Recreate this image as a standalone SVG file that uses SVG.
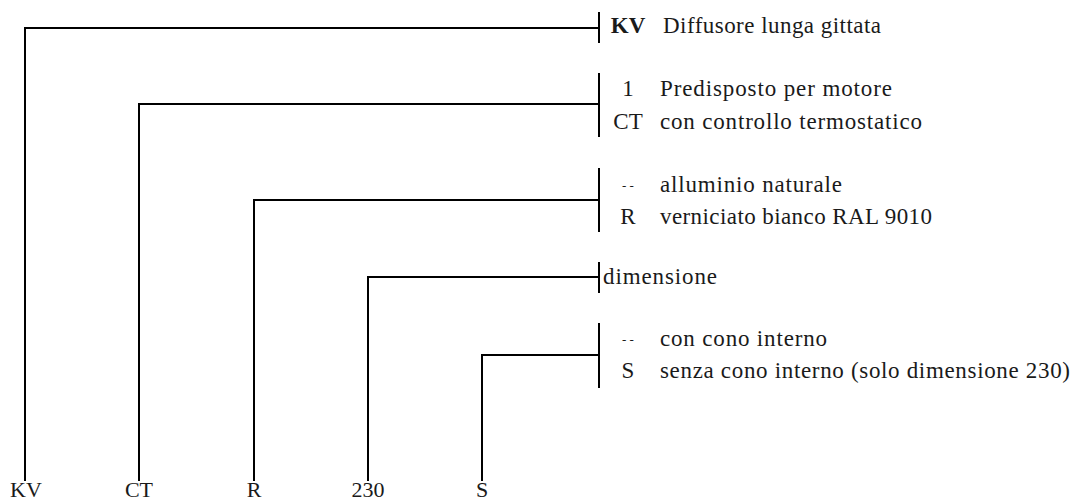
<svg xmlns="http://www.w3.org/2000/svg" width="1073" height="502" viewBox="0 0 1073 502">
<style>
  .ln { stroke:#000; stroke-width:2; fill:none; }
  text { font-family:"Liberation Serif","Times New Roman",serif; font-size:23px; fill:#1a1a1a; }
  .code { text-anchor:middle; }
  .bold { font-weight:bold; }
  .dash { font-size:13px; text-anchor:middle; }
  .bot { text-anchor:middle; font-size:22px; }
</style>
<rect width="1073" height="502" fill="#fff"/>
<g id="connectors">
  <path class="ln" d="M25,481 V28 H599"/>
  <path class="ln" d="M139,481 V104 H599"/>
  <path class="ln" d="M254,481 V200 H599"/>
  <path class="ln" d="M368,481 V277 H599"/>
  <path class="ln" d="M482,481 V355 H599"/>
</g>
<g id="node-kv">
  <line class="ln" x1="599" y1="12" x2="599" y2="43"/>
  <text class="code bold" x="628" y="33">KV</text>
  <text x="663" y="33" textLength="218">Diffusore lunga gittata</text>
</g>
<g id="node-ct">
  <line class="ln" x1="599" y1="73" x2="599" y2="137"/>
  <text class="code" x="628" y="96">1</text>
  <text x="660" y="96" textLength="232">Predisposto per motore</text>
  <text class="code" x="628" y="129">CT</text>
  <text x="660" y="129" textLength="262">con controllo termostatico</text>
</g>
<g id="node-r">
  <line class="ln" x1="599" y1="168" x2="599" y2="232"/>
  <text class="dash" x="628" y="190">- -</text>
  <text x="660" y="192" textLength="182">alluminio naturale</text>
  <text class="code" x="628" y="224">R</text>
  <text x="660" y="224" textLength="272">verniciato bianco RAL 9010</text>
</g>
<g id="node-230">
  <line class="ln" x1="599" y1="262" x2="599" y2="293"/>
  <text x="603" y="284" textLength="114">dimensione</text>
</g>
<g id="node-s">
  <line class="ln" x1="599" y1="323" x2="599" y2="388"/>
  <text class="dash" x="628" y="344">- -</text>
  <text x="660" y="346" textLength="167">con cono interno</text>
  <text class="code" x="628" y="378">S</text>
  <text x="660" y="378" textLength="410">senza cono interno (solo dimensione 230)</text>
</g>
<g id="bottom-labels">
  <text class="bot" x="26" y="497">KV</text>
  <text class="bot" x="139" y="497">CT</text>
  <text class="bot" x="254" y="497">R</text>
  <text class="bot" x="368" y="497">230</text>
  <text class="bot" x="482" y="497">S</text>
</g>
</svg>
